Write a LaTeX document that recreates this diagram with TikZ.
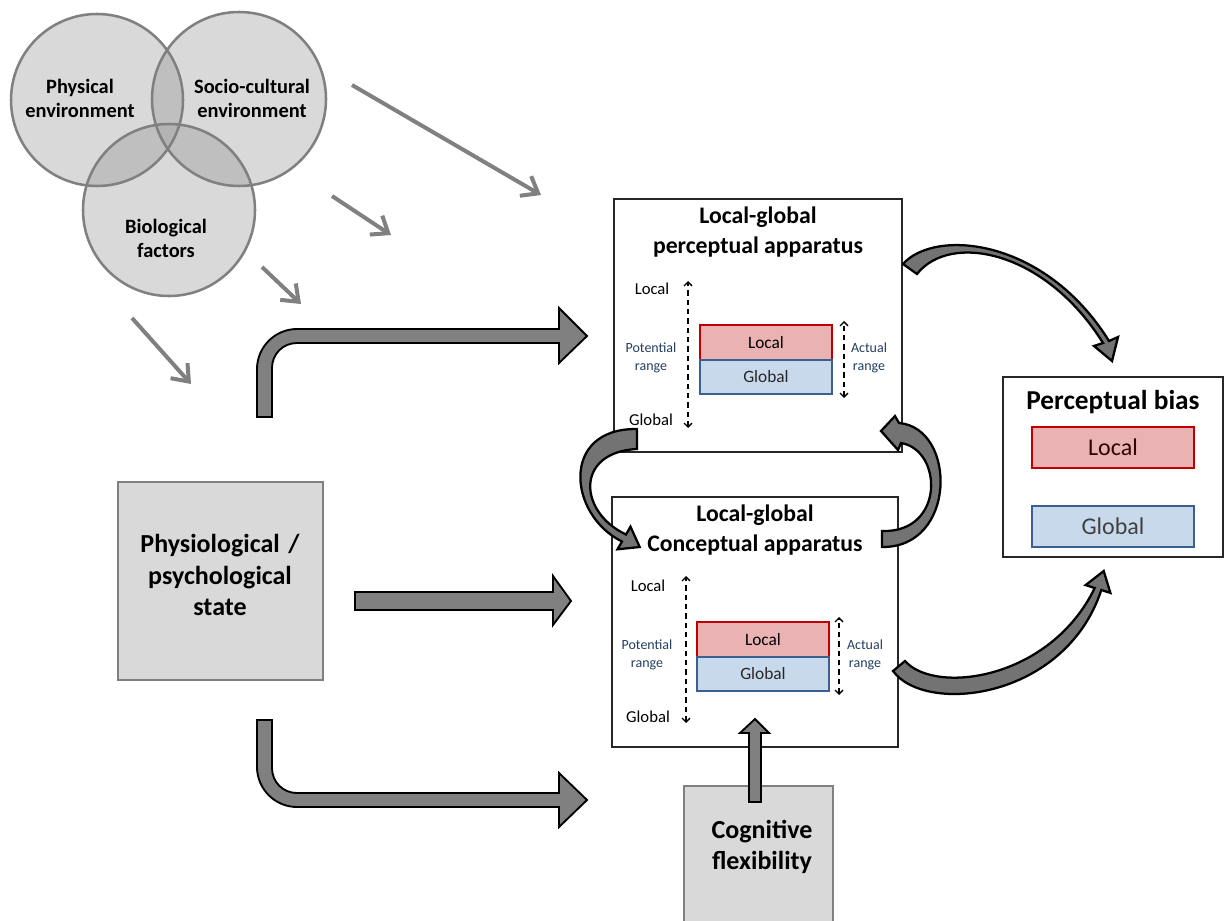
\documentclass[tikz,border=0pt]{standalone}
\usepackage{fontspec}
\setmainfont{Carlito}
\usetikzlibrary{arrows.meta}
\definecolor{cfill}{HTML}{D9D9D9}
\definecolor{cover}{HTML}{BFBFBF}
\definecolor{ctriple}{HTML}{B3B3B3}
\definecolor{cline}{HTML}{808080}
\definecolor{barrow}{HTML}{808080}
\definecolor{locfill}{HTML}{EAB2B2}
\definecolor{locline}{HTML}{C00000}
\definecolor{globfill}{HTML}{C9D9EC}
\definecolor{globline}{HTML}{3A6090}
\definecolor{rangetext}{HTML}{243F60}
\newcommand\mycirc{\fontsize{15.3}{18}\selectfont\bfseries}
\newcommand\mytitle{\fontsize{17.8}{22}\selectfont\bfseries}
\newcommand\mybig{\fontsize{19.5}{23.5}\selectfont\bfseries}
\newcommand\mylab{\fontsize{12.5}{15}\selectfont}
\newcommand\myrange{\fontsize{10.5}{13.5}\selectfont}
\newcommand\myinner{\fontsize{13}{15}\selectfont}
\newcommand\mybias{\fontsize{18}{20}\selectfont}
\newcommand\mybiastitle{\fontsize{20.5}{22}\selectfont\bfseries}
\begin{document}
\begin{tikzpicture}[x=0.75pt,y=-0.75pt,
  venn/.style={draw=cline,line width=1.9pt},
  thinarr/.style={draw=cline,line width=3pt,-{Straight Barb[length=11pt,width=17pt,line width=3pt]}},
  blockarr/.style={fill=barrow,draw=black,line width=1.4pt,line join=miter},
  curvarr/.style={fill=barrow!90!black,draw=black,line width=1.7pt,line join=miter},
  panel/.style={draw=black!85,line width=1.2pt,fill=white,inner sep=0pt},
  greybox/.style={draw=cline,line width=1.5pt,fill=cfill,inner sep=0pt},
  locbox/.style={draw=locline,line width=1.2pt,fill=locfill,inner sep=0pt,minimum width=99pt,minimum height=26.25pt,font=\myinner},
  globbox/.style={draw=globline,line width=1.2pt,fill=globfill,inner sep=0pt,minimum width=99pt,minimum height=25.5pt,font=\myinner,text=black!85},
  rangearr/.style={draw=black,line width=1.1pt,dash pattern=on 4pt off 3pt,{Straight Barb[length=3pt,width=6pt,line width=1pt]}-{Straight Barb[length=3pt,width=6pt,line width=1pt]}},
  lab/.style={font=\mylab,inner sep=0pt},
  rng/.style={font=\myrange,text=rangetext,align=center,inner sep=0pt}]
\useasboundingbox (0,0) rectangle (1226,920);

% ---------- Venn circles ----------
\coordinate (cphys) at (97,100);
\coordinate (csoc) at (239,99);
\coordinate (cbio) at (169,210);
\fill[cfill] (cphys) circle[radius=86];
\fill[cfill] (csoc) circle[radius=87];
\fill[cfill] (cbio) circle[radius=86];
\begin{scope}
  \clip (cphys) circle[radius=86];
  \fill[cover] (csoc) circle[radius=87];
  \fill[cover] (cbio) circle[radius=86];
\end{scope}
\begin{scope}
  \clip (csoc) circle[radius=87];
  \fill[cover] (cbio) circle[radius=86];
\end{scope}
\begin{scope}
  \clip (cphys) circle[radius=86];
  \clip (csoc) circle[radius=87];
  \fill[ctriple] (cbio) circle[radius=86];
\end{scope}
\draw[venn] (cphys) circle[radius=86];
\draw[venn] (csoc) circle[radius=87];
\draw[venn] (cbio) circle[radius=86];
\node[font=\mycirc,align=center] (tphys) at (80,98) {Physical\\environment};
\node[font=\mycirc,align=center] (tsoc) at (252,98) {Socio-cultural\\environment};
\node[font=\mycirc,align=center] (tbio) at (166,238) {Biological\\factors};

% ---------- thin grey arrows ----------
\coordinate (a1s) at (352,85);  \coordinate (a1e) at (541,195);
\coordinate (a2s) at (332,196); \coordinate (a2e) at (391,235);
\coordinate (a3s) at (262,267); \coordinate (a3e) at (301,304);
\coordinate (a4s) at (132,318); \coordinate (a4e) at (191,384);
\draw[thinarr] (a1s) -- (a1e);
\draw[thinarr] (a2s) -- (a2e);
\draw[thinarr] (a3s) -- (a3e);
\draw[thinarr] (a4s) -- (a4e);

% ---------- boxes ----------
\node[panel,minimum width=216pt,minimum height=189.75pt] (perc) at (758,325.5) {};
\node[panel,minimum width=214.5pt,minimum height=187.5pt] (conc) at (755,622) {};
\node[greybox,minimum width=153.75pt,minimum height=148.5pt] (phys) at (220.5,581) {};
\node[greybox,minimum width=111.75pt,minimum height=108pt] (cogn) at (758.5,858) {};
\node[panel,minimum width=165pt,minimum height=135pt] (bias) at (1113,467) {};

\node[font=\mybig,align=center] (tphysio) at (220,575) {Physiological\,\,/\\psychological\\state};
\node[font=\mybig,align=center] (tcogn) at (762,847) {Cognitive\\flexibility};

% perceptual apparatus content
\node[font=\mytitle,align=center] (tperc) at (758,232) {Local-global\\perceptual apparatus};
\node[lab] (pl) at (652,289) {Local};
\node[lab] (pg) at (651,420) {Global};
\node[rng] (pr) at (651,358) {Potential\\range};
\coordinate (pd1) at (688,428); \coordinate (pd2) at (688,281);
\draw[rangearr] (pd1) -- (pd2);
\node[locbox] (pbl) at (766,342.5) {Local};
\node[globbox] (pbg) at (766,377) {Global};
\coordinate (pa1) at (844,398); \coordinate (pa2) at (844,321);
\draw[rangearr] (pa1) -- (pa2);
\node[rng] (par) at (869,358) {Actual\\range};

% conceptual apparatus content
\node[font=\mytitle,align=center] (tconc) at (755,530) {Local-global\\Conceptual apparatus};
\node[lab] (cl) at (648,586) {Local};
\node[lab] (cg) at (648,717) {Global};
\node[rng] (cr) at (647,655) {Potential\\range};
\coordinate (cd1) at (686,723); \coordinate (cd2) at (686,576);
\draw[rangearr] (cd1) -- (cd2);
\node[locbox] (cbl) at (763,639.5) {Local};
\node[globbox] (cbg) at (763,674) {Global};
\coordinate (ca1) at (839,695); \coordinate (ca2) at (839,617);
\draw[rangearr] (ca1) -- (ca2);
\node[rng] (car) at (865,655) {Actual\\range};

% perceptual bias
\node[font=\mybiastitle] (tbias) at (1113,402) {Perceptual bias};
\node[draw=locline,line width=2pt,fill=locfill,inner sep=0pt,minimum width=121.5pt,minimum height=30.75pt,font=\mybias,text=black!80!red] (bl) at (1113,447.5) {Local};
\node[draw=globline,line width=2pt,fill=globfill,inner sep=0pt,minimum width=121.5pt,minimum height=30.75pt,font=\mybias,text=black!75] (bg) at (1113,526.5) {Global};

% ---------- block arrows ----------
\draw[blockarr] (257,417) -- (257,369) .. controls (257,347) and (275,329) .. (297,329) -- (559,329) -- (559,308) -- (587,336) -- (559,363) -- (559,343) -- (297,343) .. controls (283,343) and (272,354) .. (272,368) -- (272,417) -- cycle;
\draw[blockarr] (355,592) -- (553,592) -- (553,576) -- (571,601) -- (553,625) -- (553,610) -- (355,610) -- cycle;
\draw[blockarr] (257,720) -- (257,767) .. controls (257,789) and (275,807) .. (297,807) -- (559,807) -- (559,827) -- (587,800) -- (559,773) -- (559,793) -- (297,793) .. controls (283,793) and (272,782) .. (272,768) -- (272,720) -- cycle;
\draw[blockarr] (749,802) -- (749,733) -- (740,733) -- (755,719) -- (769,733) -- (761,733) -- (761,802) -- cycle;

% ---------- curved arrows ----------
% perceptual -> bias
\draw[curvarr] (903,264) .. controls (935,228) and (1045,238) .. (1109,341) -- (1118,337) -- (1112,361) -- (1094,346) -- (1103,343) .. controls (1045,250) and (950,232) .. (917,274) -- cycle;
% perceptual -> conceptual (left loop)
\draw[curvarr] (637,429) .. controls (560,428) and (568,515) .. (622,541.5) -- (617.5,549.3) -- (639.7,547) -- (630.5,526.7) -- (626,534.5) .. controls (578,512) and (575,452) .. (637,449) -- cycle;
% conceptual -> perceptual (right loop)
\draw[curvarr] (882,547) .. controls (957,548) and (957,428) .. (899,423) -- (895,416) -- (881,431) -- (898,450) -- (901,443) .. controls (943,450) and (945,533) .. (882,531) -- cycle;
% conceptual -> bias
\draw[curvarr] (893,671) .. controls (925,715) and (1065,700) .. (1101.3,590) -- (1110.4,592.9) -- (1103.7,571) -- (1085.6,585.1) -- (1094.7,588) .. controls (1050,680) and (935,695) .. (905,661) -- cycle;
\end{tikzpicture}
\end{document}
